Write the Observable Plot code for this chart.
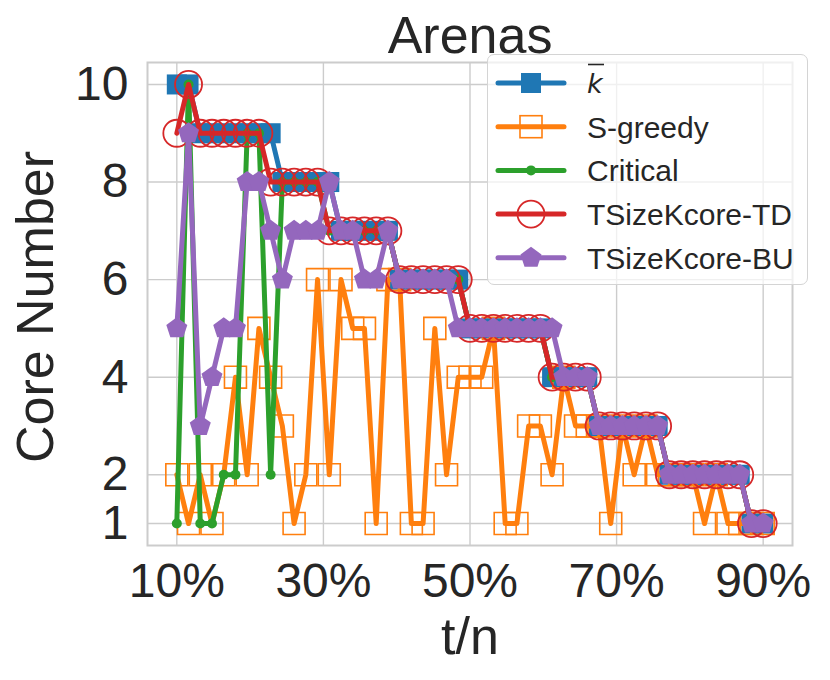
<!DOCTYPE html>
<html><head><meta charset="utf-8">
<script src="https://cdn.jsdelivr.net/npm/d3@7"></script>
<script src="https://cdn.jsdelivr.net/npm/@observablehq/plot@0.6"></script>
<style>
body{margin:0;background:#fff;}
#wrap{position:relative;width:830px;height:680px;}
#legend{position:absolute;left:487px;top:54px;width:321px;height:231px;box-sizing:border-box;border:1.3px solid #d4d4d4;border-radius:7px;background:rgba(255,255,255,0.7);}
#legend svg{position:absolute;left:0;top:0;overflow:visible;}
</style></head>
<body><div id="wrap"><div id="legend"></div></div>
<script>
// t/n positions (percent)
const xPct = [10, 11.6, 13.2, 14.8, 16.4, 18, 19.6, 21.2, 22.8, 24.4, 26, 27.6, 29.2, 30.8, 32.4, 34, 35.6, 37.2, 38.8, 40.4, 42, 43.6, 45.2, 46.8, 48.4, 50, 51.6, 53.2, 54.8, 56.4, 58, 59.6, 61.2, 62.8, 64.4, 66, 67.6, 69.2, 70.8, 72.4, 74, 75.6, 77.2, 78.8, 80.4, 82, 83.6, 85.2, 86.8, 88.4, 90];
const kbar = [10,10, 9,9,9,9,9,9,9, 8,8,8,8,8, 7,7,7,7,7, 6,6,6,6,6,6, 5,5,5,5,5,5,5, 4,4,4,4, 3,3,3,3,3,3, 2,2,2,2,2,2,2, 1,1];
const sgreedy = [2,1,2,1,2,4,2,5,4,3, 1,2,6,2,6,5,5,1,6,6, 1,1,5,2,4,4,4,5,1,1, 3,3,2,4,3,3,3,1,3,2, 3,2,2,2,2,1,2,1,1,1, 1];
const critical = [1,10,1,1,2,2,9,9,2,8, 8,8,8, 7,7,7,7,7,7, 6,6,6,6,6,6, 5,5,5,5,5,5,5, 4,4,4,4, 3,3,3,3,3,3, 2,2,2,2,2,2,2, 1,1];
const tsizeTD = [9,10, 9,9,9,9,9,9, 8,8,8,8,8, 7,7,7,7,7,7, 6,6,6,6,6,6, 5,5,5,5,5,5,5, 4,4,4,4, 3,3,3,3,3,3, 2,2,2,2,2,2,2, 1,1];
const tsizeBU = [5,9,3,4,5,5,8,8,7,6, 7,7,7,8, 7,7,6,6,7, 6,6,6,6,6, 5,5,5,5,5,5,5,5,5, 4,4,4, 3,3,3,3,3,3, 2,2,2,2,2,2,2, 1,1];

const seriesNames = ["k", "S-greedy", "Critical", "TSizeKcore-TD", "TSizeKcore-BU"];
const colors = ["#1f77b4", "#ff7f0e", "#2ca02c", "#d62728", "#9467bd"];
const xTicks = [10, 30, 50, 70, 90];
const yTicks = [1, 2, 4, 6, 8, 10];

const pentagon = {
  draw(ctx, size) {
    const R = Math.sqrt(size / 2.3776);
    for (let k = 0; k < 5; k++) {
      const a = -Math.PI / 2 + k * 2 * Math.PI / 5;
      const px = R * Math.cos(a), py = R * Math.sin(a);
      if (k === 0) ctx.moveTo(px, py); else ctx.lineTo(px, py);
    }
    ctx.closePath();
  }
};

const rows = (ys) => xPct.map((x, i) => ({x, y: ys[i]}));
const S = [kbar, sgreedy, critical, tsizeTD, tsizeBU].map(rows);
const lw = 5;
const grid = {stroke: "#cccccc", strokeOpacity: 1, strokeWidth: 1.4};

const chart = Plot.plot({
  width: 830, height: 680,
  marginLeft: 147, marginRight: 38, marginTop: 62, marginBottom: 135,
  style: {fontFamily: "'Liberation Sans', Arial, sans-serif", color: "#262626", background: "#fff", overflow: "visible"},
  x: {domain: [6, 94]},
  y: {domain: [0.55, 10.45]},
  marks: [
    Plot.gridX(xTicks, grid),
    Plot.gridY(yTicks, grid),
    Plot.frame({stroke: "#cccccc", strokeWidth: 2}),
    Plot.axisX(xTicks, {tickSize: 0, tickPadding: 17, fontSize: 48, tickFormat: d => d + "%", label: null}),
    Plot.axisY(yTicks, {tickSize: 0, tickPadding: 19, fontSize: 48, label: null}),
    Plot.line(S[0], {x: "x", y: "y", stroke: colors[0], strokeWidth: lw}),
    Plot.dot(S[0], {x: "x", y: "y", symbol: "square", r: 11.3, fill: colors[0]}),
    Plot.line(S[1], {x: "x", y: "y", stroke: colors[1], strokeWidth: lw}),
    Plot.dot(S[1], {x: "x", y: "y", symbol: "square", r: 12.4, fill: "none", stroke: colors[1], strokeWidth: 1.6}),
    Plot.line(S[2], {x: "x", y: "y", stroke: colors[2], strokeWidth: lw}),
    Plot.dot(S[2], {x: "x", y: "y", r: 5, fill: colors[2]}),
    Plot.line(S[3], {x: "x", y: "y", stroke: colors[3], strokeWidth: lw}),
    Plot.dot(S[3], {x: "x", y: "y", r: 13.5, fill: "none", stroke: colors[3], strokeWidth: 1.8}),
    Plot.line(S[4], {x: "x", y: "y", stroke: colors[4], strokeWidth: lw}),
    Plot.dot(S[4], {x: "x", y: "y", symbol: pentagon, r: 9.6, fill: colors[4]}),
    Plot.text(["Arenas"], {text: d => d, frameAnchor: "top", textAnchor: "middle", lineAnchor: "bottom", dy: -10, fontSize: 52, fill: "#262626"}),
    Plot.text(["t/n"], {text: d => d, frameAnchor: "bottom", textAnchor: "middle", lineAnchor: "bottom", dy: 108, fontSize: 52, fill: "#262626"}),
    Plot.text(["Core Number"], {text: d => d, frameAnchor: "left", textAnchor: "middle", lineAnchor: "bottom", rotate: -90, dx: -95, dy: 3, fontSize: 52, fill: "#262626"})
  ]
});
const wrap = document.getElementById("wrap");
wrap.insertBefore(chart, wrap.firstChild);

// Legend
const lg = d3.select("#legend").append("svg").attr("width", 321).attr("height", 231);
seriesNames.forEach((name, i) => {
  const cy = 28 + 43.7 * i;
  const g = lg.append("g");
  g.append("line").attr("x1", 10).attr("x2", 76).attr("y1", cy).attr("y2", cy)
    .attr("stroke", colors[i]).attr("stroke-width", lw).attr("stroke-linecap", "round");
  if (i === 0) g.append("rect").attr("x", 33).attr("y", cy - 10).attr("width", 20).attr("height", 20).attr("fill", colors[i]);
  if (i === 1) g.append("rect").attr("x", 32).attr("y", cy - 11).attr("width", 22).attr("height", 22).attr("fill", "none").attr("stroke", colors[i]).attr("stroke-width", 1.6);
  if (i === 2) g.append("circle").attr("cx", 43).attr("cy", cy).attr("r", 5).attr("fill", colors[i]);
  if (i === 3) g.append("circle").attr("cx", 43).attr("cy", cy).attr("r", 13.5).attr("fill", "none").attr("stroke", colors[i]).attr("stroke-width", 1.8);
  if (i === 4) g.append("path").attr("transform", `translate(43,${cy})`).attr("d", d3.symbol(pentagon, Math.PI * 9.6 * 9.6)()).attr("fill", colors[i]);
  if (i === 0) {
    g.append("text").attr("x", 99).attr("y", cy + 10).attr("font-family", "'DejaVu Sans', sans-serif")
      .attr("font-style", "italic").attr("font-size", 27).attr("fill", "#262626").text(name);
    g.append("line").attr("x1", 100).attr("x2", 116).attr("y1", cy - 18.5).attr("y2", cy - 18.5)
      .attr("stroke", "#262626").attr("stroke-width", 1.6);
  } else {
    g.append("text").attr("x", 99).attr("y", cy + 11).attr("font-family", "'Liberation Sans', Arial, sans-serif")
      .attr("font-size", 30).attr("fill", "#262626").text(name);
  }
});
</script>
</body></html>
